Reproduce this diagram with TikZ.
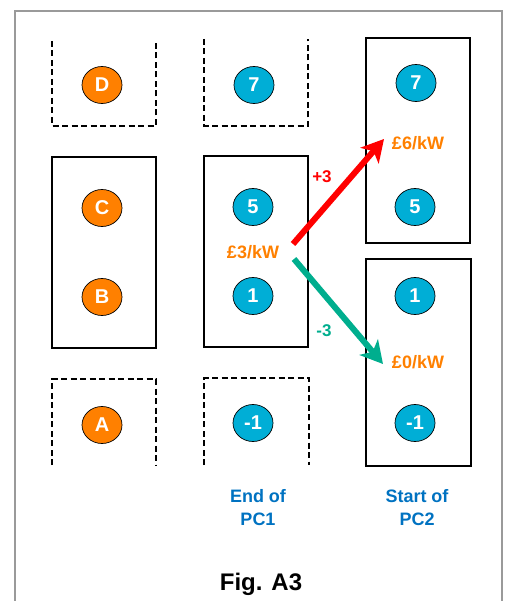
\documentclass[tikz,border=0pt]{standalone}
\usepackage{fontspec}
\setmainfont{Liberation Sans}
\usetikzlibrary{arrows.meta,shapes.geometric}
\definecolor{orng}{HTML}{FF8000}
\definecolor{cyn}{HTML}{00AED6}
\definecolor{blu}{HTML}{0072C1}
\definecolor{tl}{HTML}{00AE8E}
\definecolor{frm}{HTML}{9A9A9A}
\tikzset{
  ball/.style={ellipse, draw=black, line width=0.7pt, minimum width=40pt, minimum height=37pt, inner sep=0pt, text=white, font=\fontsize{20}{22}\selectfont\bfseries},
  oball/.style={ball, fill=orng},
  cball/.style={ball, fill=cyn},
  solidbox/.style={draw=black, line width=2pt},
  dashbox/.style={draw=black, line width=2pt, dash pattern=on 6pt off 3.5pt},
  price/.style={text=orng, font=\fontsize{18}{20}\selectfont\bfseries, inner sep=0pt},
  captext/.style={text=blu, font=\fontsize{18}{23}\selectfont\bfseries, align=center, inner sep=0pt},
  delta/.style={font=\fontsize{17}{19}\selectfont\bfseries, inner sep=0pt},
  bigarrow/.style={line width=6pt, -{Stealth[length=22pt,width=24pt,inset=6pt]}}
}
\begin{document}
\begin{tikzpicture}[x=1pt,y=-1pt]
\useasboundingbox (0,0) rectangle (513,601);
% frame
\draw[frm, line width=1.5pt] (15,601) -- (15,11) -- (502,11) -- (502,601);
% boxes
\draw[dashbox] (52,41) -- (52,126) -- (156,126) -- (156,41);
\draw[dashbox] (204,39) -- (204,126) -- (308,126) -- (308,39);
\draw[solidbox] (366,38) rectangle (470,243);
\draw[solidbox] (52,157) rectangle (156,348);
\draw[solidbox] (204,156) rectangle (308,347);
\draw[solidbox] (366,259) rectangle (471,466);
\draw[dashbox] (52,465) -- (52,379) -- (156,379) -- (156,465);
\draw[dashbox] (204,465) -- (204,378) -- (309,378) -- (309,465);
% balls
\node[oball] (D) at (102,85) {D};
\node[oball] (C) at (102,208) {C};
\node[oball] (B) at (102,297) {B};
\node[oball] (A) at (102,425) {A};
\node[cball] (e7) at (254,85) {7};
\node[cball] (e5) at (253,207) {5};
\node[cball] (e1) at (253,296) {1};
\node[cball] (em1) at (253,423) {-1};
\node[cball] (s7) at (416,83) {7};
\node[cball] (s5) at (415,207) {5};
\node[cball] (s1) at (415,296) {1};
\node[cball] (sm1) at (415,423) {-1};
% prices
\node[price] (p3) at (253,252) {£3/kW};
\node[price] (p6) at (418,143) {£6/kW};
\node[price] (p0) at (418,362) {£0/kW};
% arrows
\coordinate (r0) at (293,244);
\coordinate (r1) at (384,139);
\coordinate (t0) at (294,259);
\coordinate (t1) at (383,364);
\draw[bigarrow, red] (r0) -- (r1);
\draw[bigarrow, tl] (t0) -- (t1);
\node[delta, text=red] (plus) at (322,177) {+3};
\node[delta, text=tl] (minus) at (324,331) {-3};
% captions
\node[captext] (endpc) at (258,508) {End of\\PC1};
\node[captext] (startpc) at (417,508) {Start of\\PC2};
\node[font=\fontsize{24}{26}\selectfont\bfseries, inner sep=0pt] (fig) at (261,584) {Fig. A3};
\end{tikzpicture}
\end{document}
